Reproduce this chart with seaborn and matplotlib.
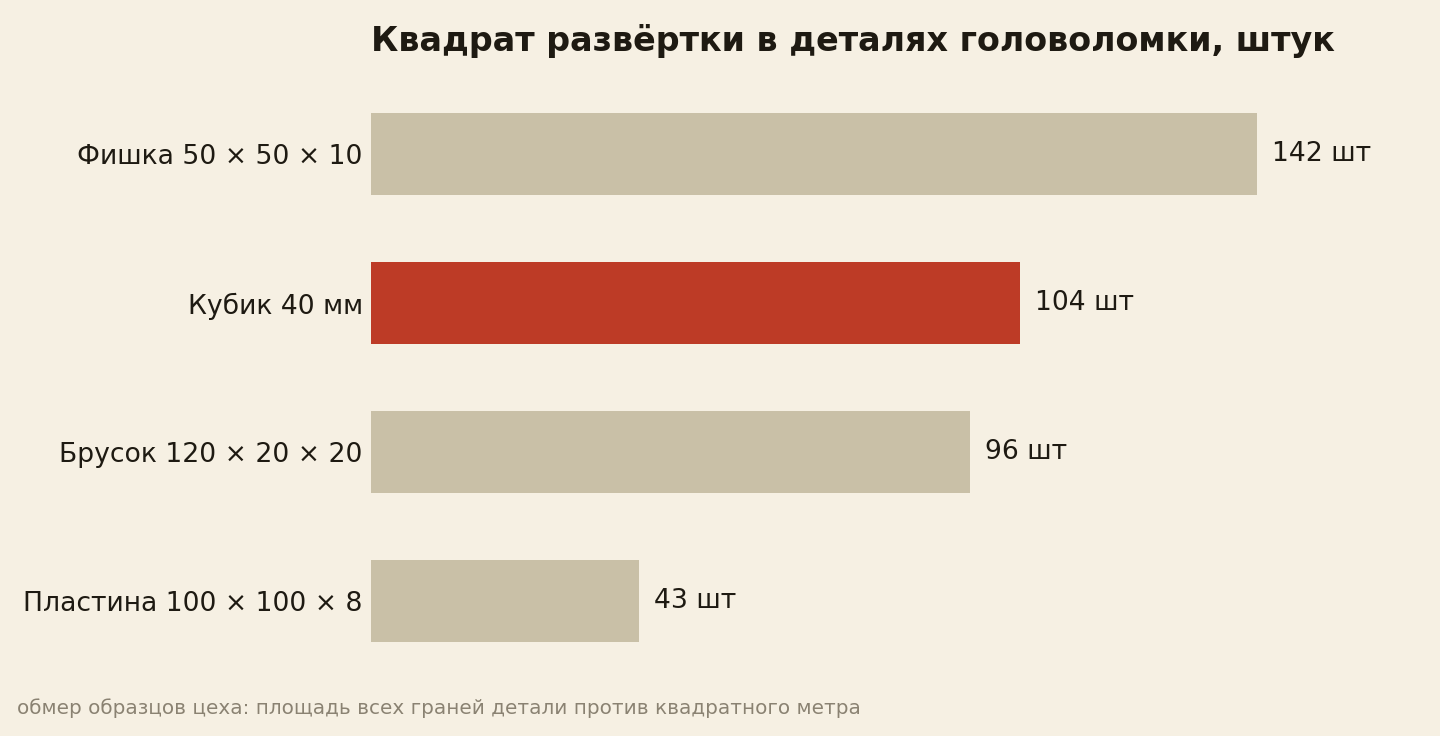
import matplotlib
matplotlib.use('Agg')
import matplotlib.pyplot as plt
import seaborn as sns
import pandas as pd

# данные
details = ['Фишка 50 × 50 × 10', 'Кубик 40 мм', 'Брусок 120 × 20 × 20', 'Пластина 100 × 100 × 8']
counts = [142, 104, 96, 43]
highlight = 'Кубик 40 мм'

bg = '#f6f0e3'
bar_color = '#c9c0a7'
red = '#bd3b26'
ink = '#1e1a12'

sns.set_theme(style='white')
plt.rcParams['font.family'] = ['DejaVu Sans']

df = pd.DataFrame({'detail': details, 'count': counts})
palette = {d: (red if d == highlight else bar_color) for d in details}

fig = plt.figure(figsize=(14.4, 7.36), dpi=100, facecolor=bg)
ax = fig.add_axes([371 / 1440, 60.5 / 736, 1019 / 1440, 596 / 736])
ax.set_facecolor(bg)

sns.barplot(data=df, y='detail', x='count', hue='detail', palette=palette,
            order=details, width=0.55, legend=False, saturation=1,
            linewidth=0, ax=ax)

ax.set_xlim(0, 142 * 1.15)
ax.set_ylim(3.5, -0.5)
for i, v in enumerate(counts):
    ax.text(v + 2.4, i, f'{v} шт', va='center', ha='left', fontsize=19.2, color=ink)

ax.set_xlabel('')
ax.set_ylabel('')
ax.set_xticks([])
ax.tick_params(axis='y', length=0, pad=6, labelsize=19.2, labelcolor=ink)
sns.despine(ax=ax, left=True, bottom=True)

fig.text(371 / 1440, 1 - 51 / 736, 'Квадрат развёртки в деталях головоломки, штук',
         fontsize=24, fontweight='bold', color=ink, va='baseline', ha='left')
fig.text(17 / 1440, 1 - 714 / 736,
         'обмер образцов цеха: площадь всех граней детали против квадратного метра',
         fontsize=14.4, color='#8a8272', va='baseline', ha='left')

fig.savefig('out.png', dpi=100, facecolor=bg)
